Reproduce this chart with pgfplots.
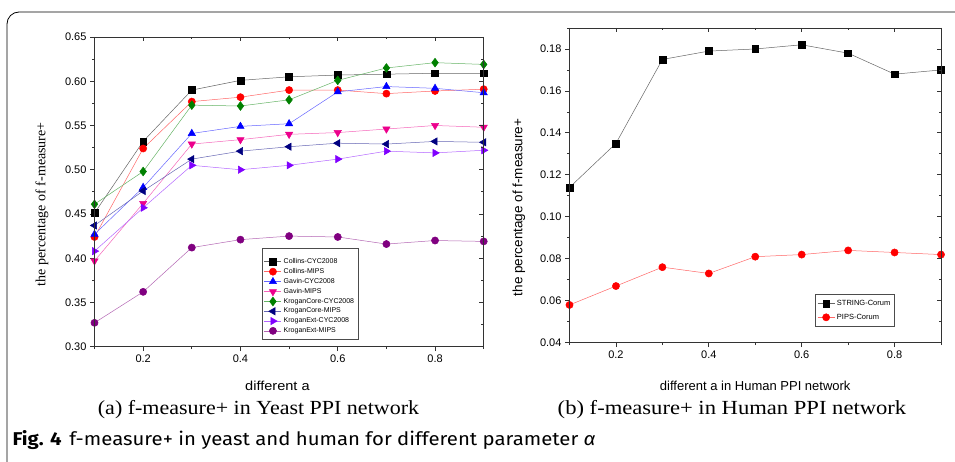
\documentclass[border=0pt]{standalone}
\usepackage{pgfplots}
\pgfplotsset{compat=1.18}
\usepackage{fontspec}
\setmainfont{Liberation Sans}
\newfontfamily\serif{Liberation Serif}
\newfontfamily\capfont{Fira Sans}

\definecolor{kgreen}{RGB}{0,128,0}
\definecolor{knavy}{RGB}{0,0,128}
\definecolor{kviolet}{RGB}{128,0,255}
\definecolor{kpurple}{RGB}{128,0,128}

\pgfplotsset{
  originframe/.style={
    scale only axis,
    xmin=0.1, xmax=0.9,
    xtick={0.2,0.4,0.6,0.8},
    minor xtick={0.1,0.3,0.5,0.7,0.9},
    axis line style={black!80, line width=0.8pt},
    tick style={black!80, line width=0.8pt},
    major tick length=4.5pt, minor tick length=2.5pt,
  },
  origin/.style={
    originframe,
    tick align=outside,
    xtick pos=left, ytick pos=left,
    /pgf/number format/assume math mode=true,
    tick label style={font=\fontsize{11}{12}\selectfont},
    x tick label style={/pgf/number format/.cd, fixed, precision=1},
    y tick label style={/pgf/number format/.cd, fixed, fixed zerofill, precision=2},
    xlabel style={font=\fontsize{13}{14}\selectfont},
    legend cell align=left,
  },
  mirror/.style={
    originframe,
    tick align=inside,
    xtick pos=right, ytick pos=right,
    xticklabels={}, yticklabels={},
  },
  ln/.style={line width=0.5pt},
}

\begin{document}
\begin{tikzpicture}[x=1pt,y=1pt]
\path[use as bounding box] (0,0) rectangle (955,461);
\draw[black, line width=0.8pt, rounded corners=12pt] (970,449) -- (7,449) -- (7,-30);

% ---------- (a) yeast ----------
\begin{axis}[origin,
  at={(94.5pt,114.3pt)}, anchor=south west,
  width=389.2pt, height=309.7pt,
  ymin=0.30, ymax=0.65,
  ytick={0.30,0.35,...,0.651},
  minor ytick={0.325,0.375,...,0.64},
  xlabel={\scalebox{1.12}[1]{different a}},
  xlabel style={at={(axis description cs:0.47,-0.127)}, anchor=center},
  ylabel={\serif the percentage of f-measure+},
  ylabel style={font=\fontsize{14}{15}\selectfont, at={(axis description cs:-0.135,0.46)}, anchor=center},
  legend style={at={(0.43,0.318)}, anchor=north west, draw=black!70, line width=0.6pt,
    font=\fontsize{7}{8}\selectfont, row sep=-0.6pt, inner xsep=2pt, inner ysep=3pt},
  legend image post style={line width=0.5pt},
  mark size=3.6pt,
]
\addlegendimage{empty legend}\addlegendentry{}
\addplot[ln, black!60, mark=square*, mark options={black, mark size=3.4pt}] coordinates {
 (0.1,0.451) (0.2,0.532) (0.3,0.590) (0.4,0.601) (0.5,0.605) (0.6,0.607) (0.7,0.608) (0.8,0.609) (0.9,0.609)};
\addlegendentry{Collins-CYC2008}
\addplot[ln, red!60, mark=*, mark options={red}] coordinates {
 (0.1,0.424) (0.2,0.524) (0.3,0.577) (0.4,0.582) (0.5,0.590) (0.6,0.590) (0.7,0.586) (0.8,0.589) (0.9,0.591)};
\addlegendentry{Collins-MIPS}
\addplot[ln, blue!60, mark=triangle*, mark options={blue, mark size=4.2pt}] coordinates {
 (0.1,0.427) (0.2,0.480) (0.3,0.541) (0.4,0.549) (0.5,0.552) (0.6,0.588) (0.7,0.594) (0.8,0.592) (0.9,0.587)};
\addlegendentry{Gavin-CYC2008}
\addplot[ln, magenta!60, mark=triangle*, mark options={magenta, rotate=180, mark size=4.2pt}] coordinates {
 (0.1,0.397) (0.2,0.462) (0.3,0.529) (0.4,0.534) (0.5,0.540) (0.6,0.542) (0.7,0.546) (0.8,0.550) (0.9,0.548)};
\addlegendentry{Gavin-MIPS}
\addplot[ln, kgreen!60, mark=diamond*, mark options={kgreen, mark size=4.4pt}] coordinates {
 (0.1,0.461) (0.2,0.498) (0.3,0.573) (0.4,0.572) (0.5,0.579) (0.6,0.601) (0.7,0.615) (0.8,0.621) (0.9,0.619)};
\addlegendentry{KroganCore-CYC2008}
\addplot[ln, knavy!60, mark=triangle*, mark options={knavy, rotate=90, mark size=4.2pt}] coordinates {
 (0.1,0.437) (0.2,0.476) (0.3,0.512) (0.4,0.521) (0.5,0.526) (0.6,0.530) (0.7,0.529) (0.8,0.532) (0.9,0.531)};
\addlegendentry{KroganCore-MIPS}
\addplot[ln, kviolet!60, mark=triangle*, mark options={kviolet, rotate=-90, mark size=4.2pt}] coordinates {
 (0.1,0.408) (0.2,0.457) (0.3,0.505) (0.4,0.500) (0.5,0.505) (0.6,0.512) (0.7,0.521) (0.8,0.519) (0.9,0.522)};
\addlegendentry{KroganExt-CYC2008}
\addplot[ln, kpurple!60, mark=*, mark options={kpurple}] coordinates {
 (0.1,0.327) (0.2,0.362) (0.3,0.412) (0.4,0.421) (0.5,0.425) (0.6,0.424) (0.7,0.416) (0.8,0.420) (0.9,0.419)};
\addlegendentry{KroganExt-MIPS}
\end{axis}
\begin{axis}[mirror,
  at={(94.5pt,114.3pt)}, anchor=south west,
  width=389.2pt, height=309.7pt,
  ymin=0.30, ymax=0.65,
  ytick={0.30,0.35,...,0.651},
  minor ytick={0.325,0.375,...,0.64},
]
\end{axis}

% ---------- (b) human ----------
\begin{axis}[origin,
  at={(569.5pt,118.3pt)}, anchor=south west,
  width=371.5pt, height=314.7pt,
  ymin=0.04, ymax=0.19,
  ytick={0.04,0.06,...,0.181},
  minor ytick={0.05,0.07,...,0.19},
  xlabel={different a in Human PPI network},
  xlabel style={at={(axis description cs:0.5,-0.138)}, anchor=center},
  ylabel={the percentage of f-measure+},
  ylabel style={font=\fontsize{13.5}{15}\selectfont, at={(axis description cs:-0.136,0.43)}, anchor=center},
  legend style={at={(0.661,0.155)}, anchor=north west, draw=black!70, line width=0.6pt,
    font=\fontsize{7.5}{9}\selectfont, row sep=3pt, inner xsep=2pt, inner ysep=4pt},
  legend image post style={line width=0.5pt},
  mark size=3.6pt,
]
\addplot[ln, black!60, mark=square*, mark options={black, mark size=3.4pt}] coordinates {
 (0.1,0.114) (0.2,0.135) (0.3,0.175) (0.4,0.179) (0.5,0.180) (0.6,0.182) (0.7,0.178) (0.8,0.168) (0.9,0.170)};
\addlegendentry{STRING-Corum}
\addplot[ln, red!60, mark=*, mark options={red}] coordinates {
 (0.1,0.058) (0.2,0.067) (0.3,0.076) (0.4,0.073) (0.5,0.081) (0.6,0.082) (0.7,0.084) (0.8,0.083) (0.9,0.082)};
\addlegendentry{PIPS-Corum}
\end{axis}
\begin{axis}[mirror,
  at={(569.5pt,118.3pt)}, anchor=south west,
  width=371.5pt, height=314.7pt,
  ymin=0.04, ymax=0.19,
  ytick={0.04,0.06,...,0.181},
  minor ytick={0.05,0.07,...,0.19},
]
\end{axis}

% ---------- captions ----------
\node[font=\serif\fontsize{20}{22}\selectfont] at (258.5,51)
  {\scalebox{1.1}[1]{(a) f-measure+ in Yeast PPI network}};
\node[font=\serif\fontsize{20}{22}\selectfont] at (732,51)
  {\scalebox{1.13}[1]{(b) f-measure+ in Human PPI network}};
\node[anchor=west, font=\capfont\fontsize{18.5}{20}\selectfont] at (9,21)
  {\scalebox{1.1}[1]{\textbf{Fig. 4}\hspace{7pt}f-measure+ in yeast and human for different parameter \textit{α}}};
\end{tikzpicture}
\end{document}
